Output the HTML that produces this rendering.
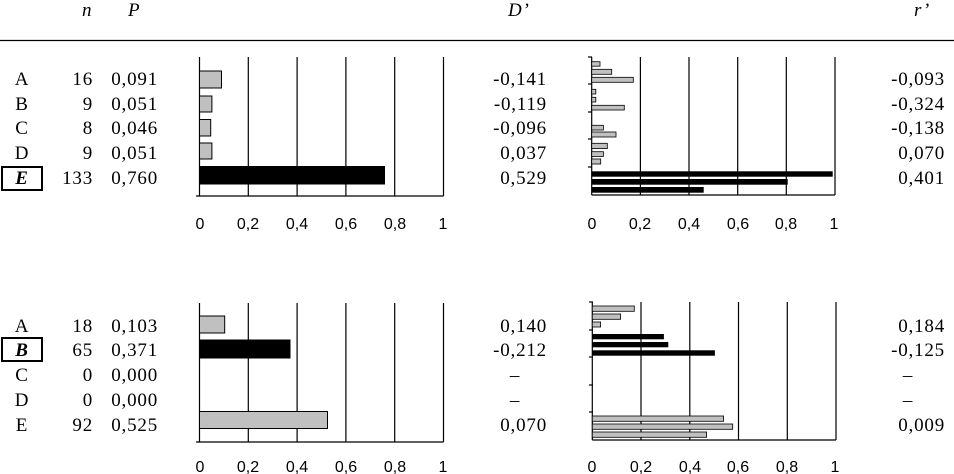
<!DOCTYPE html>
<html><head><meta charset="utf-8"><style>
html,body{margin:0;padding:0;background:#fff;}
svg{display:block;}
.s{font-family:"Liberation Serif",serif;font-size:19px;letter-spacing:0.8px;fill:#000;}
.t{font-family:"Liberation Sans",sans-serif;font-size:16px;fill:#000;}
</style></head><body>
<svg width="954" height="474" viewBox="0 0 954 474" xmlns="http://www.w3.org/2000/svg">
<g class="s" font-style="italic">
<text x="82" y="16">n</text><text x="128" y="16">P</text>
<text x="508" y="16">D’</text><text x="914" y="16">r’</text>
</g>
<line x1="0" y1="40.5" x2="954" y2="40.5" stroke="#000" stroke-width="1.3"/>

<!-- top left chart -->
<g stroke="#000" stroke-width="1.2">
<line x1="199.5" y1="57" x2="199.5" y2="196"/>
<line x1="248.3" y1="57" x2="248.3" y2="196"/><line x1="297.1" y1="57" x2="297.1" y2="196"/>
<line x1="345.9" y1="57" x2="345.9" y2="196"/><line x1="394.7" y1="57" x2="394.7" y2="196"/>
<line x1="443.5" y1="57" x2="443.5" y2="196"/>
<line x1="196" y1="196" x2="443.5" y2="196"/>
</g>
<g stroke="#000" stroke-width="1">
<rect x="199.5" y="71" width="22" height="17" fill="#c0c0c0"/>
<rect x="199.5" y="96" width="12.4" height="16" fill="#c0c0c0"/>
<rect x="199.5" y="119.5" width="11.2" height="16.5" fill="#c0c0c0"/>
<rect x="199.5" y="143" width="12.4" height="16" fill="#c0c0c0"/>
<rect x="199.5" y="166.5" width="185" height="17.5" fill="#000"/>
</g>
<g class="t" text-anchor="middle">
<text x="200" y="229">0</text><text x="248" y="229">0,2</text><text x="297" y="229">0,4</text>
<text x="346" y="229">0,6</text><text x="395" y="229">0,8</text><text x="443" y="229">1</text>
</g>

<!-- top right chart -->
<g stroke="#000" stroke-width="1.2">
<line x1="591.7" y1="57" x2="591.7" y2="195"/>
<line x1="640.4" y1="57" x2="640.4" y2="195"/><line x1="689" y1="57" x2="689" y2="195"/>
<line x1="737.7" y1="57" x2="737.7" y2="195"/><line x1="786.3" y1="57" x2="786.3" y2="195"/>
<line x1="835" y1="57" x2="835" y2="195"/>
<line x1="591.7" y1="195" x2="835" y2="195"/>
<line x1="588" y1="57" x2="592" y2="57"/><line x1="588" y1="84" x2="592" y2="84"/><line x1="588" y1="112" x2="592" y2="112"/>
<line x1="588" y1="139" x2="592" y2="139"/><line x1="588" y1="167" x2="592" y2="167"/>
</g>
<g stroke="#000" stroke-width="0.8" fill="#c0c0c0">
<rect x="591.7" y="61.7" width="8.3" height="4.5"/>
<rect x="591.7" y="69.3" width="20" height="5"/>
<rect x="591.7" y="77.3" width="41.6" height="5"/>
<rect x="591.7" y="89.3" width="4.1" height="4.7"/>
<rect x="591.7" y="97.3" width="4.1" height="4.7"/>
<rect x="591.7" y="105.3" width="32.6" height="4.7"/>
<rect x="591.7" y="125.3" width="11.7" height="4.7"/>
<rect x="591.7" y="132" width="24.3" height="5"/>
<rect x="591.7" y="143.3" width="15.6" height="5.3"/>
<rect x="591.7" y="151.7" width="11.7" height="4.7"/>
<rect x="591.7" y="159" width="9" height="5"/>
</g>
<g fill="#000">
<rect x="591.7" y="171.3" width="241" height="5.4"/>
<rect x="591.7" y="179" width="196" height="5.7"/>
<rect x="591.7" y="187" width="112" height="5.7"/>
</g>
<g class="t" text-anchor="middle">
<text x="592" y="229">0</text><text x="640" y="229">0,2</text><text x="689" y="229">0,4</text>
<text x="738" y="229">0,6</text><text x="786" y="229">0,8</text><text x="834" y="229">1</text>
</g>

<!-- top table -->
<rect x="2" y="167" width="40" height="23" fill="none" stroke="#000" stroke-width="2"/>
<g class="s">
<text x="22" y="85" text-anchor="middle">A</text>
<text x="22" y="110" text-anchor="middle">B</text>
<text x="22" y="134" text-anchor="middle">C</text>
<text x="22" y="159" text-anchor="middle">D</text>
<text x="22" y="184" text-anchor="middle" font-style="italic" font-weight="bold">E</text>
<g text-anchor="end">
<text x="93" y="85">16</text><text x="93" y="110">9</text><text x="93" y="134">8</text><text x="93" y="159">9</text><text x="93" y="184">133</text>
<text x="158" y="85">0,091</text><text x="158" y="110">0,051</text><text x="158" y="134">0,046</text><text x="158" y="159">0,051</text><text x="158" y="184">0,760</text>
<text x="547" y="85">-0,141</text><text x="547" y="110">-0,119</text><text x="547" y="134">-0,096</text><text x="547" y="159">0,037</text><text x="547" y="184">0,529</text>
<text x="945" y="85">-0,093</text><text x="945" y="110">-0,324</text><text x="945" y="134">-0,138</text><text x="945" y="159">0,070</text><text x="945" y="184">0,401</text>
</g>
</g>

<!-- bottom left chart -->
<g stroke="#000" stroke-width="1.2">
<line x1="199.5" y1="303" x2="199.5" y2="442"/>
<line x1="248.3" y1="303" x2="248.3" y2="442"/><line x1="297.1" y1="303" x2="297.1" y2="442"/>
<line x1="345.9" y1="303" x2="345.9" y2="442"/><line x1="394.7" y1="303" x2="394.7" y2="442"/>
<line x1="443.5" y1="303" x2="443.5" y2="442"/>
<line x1="196" y1="442" x2="443.5" y2="442"/>
</g>
<g stroke="#000" stroke-width="1">
<rect x="199.5" y="316" width="25.2" height="17" fill="#c0c0c0"/>
<rect x="199.5" y="340" width="90.5" height="18" fill="#000"/>
<rect x="199.5" y="411.5" width="128" height="17" fill="#c0c0c0"/>
</g>
<g class="t" text-anchor="middle">
<text x="200" y="472">0</text><text x="248" y="472">0,2</text><text x="297" y="472">0,4</text>
<text x="346" y="472">0,6</text><text x="395" y="472">0,8</text><text x="443" y="472">1</text>
</g>

<!-- bottom right chart -->
<g stroke="#000" stroke-width="1.2">
<line x1="592.3" y1="302" x2="592.3" y2="440"/>
<line x1="641" y1="302" x2="641" y2="440"/><line x1="689.8" y1="302" x2="689.8" y2="440"/>
<line x1="738.5" y1="302" x2="738.5" y2="440"/><line x1="787.3" y1="302" x2="787.3" y2="440"/>
<line x1="836" y1="302" x2="836" y2="440"/>
<line x1="592.3" y1="440" x2="836" y2="440"/>
<line x1="589" y1="302" x2="593" y2="302"/><line x1="589" y1="330" x2="593" y2="330"/><line x1="589" y1="357" x2="593" y2="357"/>
<line x1="589" y1="385" x2="593" y2="385"/><line x1="589" y1="412" x2="593" y2="412"/>
</g>
<g stroke="#000" stroke-width="0.8" fill="#c0c0c0">
<rect x="592.3" y="306" width="42" height="5.3"/>
<rect x="592.3" y="314" width="28.3" height="5.3"/>
<rect x="592.3" y="322" width="8.3" height="5"/>
<rect x="592.3" y="416" width="131.3" height="5.3"/>
<rect x="592.3" y="424" width="140.4" height="5.3"/>
<rect x="592.3" y="432" width="114.3" height="5.3"/>
</g>
<g fill="#000">
<rect x="592.3" y="334" width="71.6" height="5.3"/>
<rect x="592.3" y="342" width="76" height="5.3"/>
<rect x="592.3" y="350.3" width="122.6" height="5.4"/>
</g>
<g class="t" text-anchor="middle">
<text x="592" y="472">0</text><text x="641" y="472">0,2</text><text x="690" y="472">0,4</text>
<text x="738" y="472">0,6</text><text x="787" y="472">0,8</text><text x="835" y="472">1</text>
</g>

<!-- bottom table -->
<rect x="2" y="338" width="40" height="23" fill="none" stroke="#000" stroke-width="2"/>
<g class="s">
<text x="22" y="332" text-anchor="middle">A</text>
<text x="22" y="356" text-anchor="middle" font-style="italic" font-weight="bold">B</text>
<text x="22" y="381" text-anchor="middle">C</text>
<text x="22" y="406" text-anchor="middle">D</text>
<text x="22" y="431" text-anchor="middle">E</text>
<g text-anchor="end">
<text x="93" y="332">18</text><text x="93" y="356">65</text><text x="93" y="381">0</text><text x="93" y="406">0</text><text x="93" y="431">92</text>
<text x="158" y="332">0,103</text><text x="158" y="356">0,371</text><text x="158" y="381">0,000</text><text x="158" y="406">0,000</text><text x="158" y="431">0,525</text>
<text x="547" y="332">0,140</text><text x="547" y="356">-0,212</text><text x="547" y="431">0,070</text>
<text x="945" y="332">0,184</text><text x="945" y="356">-0,125</text><text x="945" y="431">0,009</text>
</g>
<g text-anchor="middle">
<text x="515" y="381">–</text><text x="515" y="406">–</text>
<text x="908" y="381">–</text><text x="908" y="406">–</text>
</g>
</g>
</svg>
</body></html>
